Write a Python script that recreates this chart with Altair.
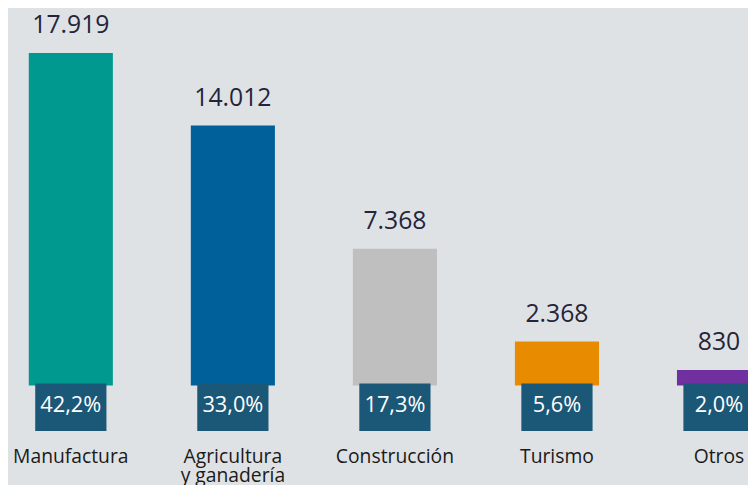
import altair as alt
import pandas as pd

categories = ["Manufactura", "Agricultura y ganadería", "Construcción", "Turismo", "Otros"]
label_lines = ["Manufactura", "Agricultura\ny ganadería", "Construcción", "Turismo", "Otros"]
values = [17919, 14012, 7368, 2368, 830]
value_labels = ["17.919", "14.012", "7.368", "2.368", "830"]
shares = ["42,2%", "33,0%", "17,3%", "5,6%", "2,0%"]
colors = ["#00998f", "#00609a", "#bfbfc0", "#e98b00", "#7030a0"]

df = pd.DataFrame({
    "cat": categories,
    "label": label_lines,
    "value": values,
    "vlabel": value_labels,
    "share": shares,
})

FONT = "Open Sans"

x = alt.X("cat:N", sort=categories, axis=None,
          scale=alt.Scale(range=[21, 761.2], paddingInner=0.481, paddingOuter=0))
y = alt.Y("value:Q", axis=None, scale=alt.Scale(domain=[0, 20000], range=[379, 4]))

base = alt.Chart(df)

bars = base.mark_bar().encode(
    x=x, y=y, y2=alt.datum(0),
    color=alt.Color("cat:N", scale=alt.Scale(domain=categories, range=colors), legend=None),
)

vtext = base.mark_text(dy=-20, baseline="alphabetic", fontSize=25, font=FONT,
                       color="#24243a").encode(x=x, y=y, text="vlabel:N")

boxes = base.mark_bar(width=72, color="#1b5877").encode(
    x=x, y=alt.value(377), y2=alt.value(425))

ptext = base.mark_text(baseline="alphabetic", fontSize=22, font=FONT,
                       color="white").encode(x=x, y=alt.value(406), text="share:N")

ctext = base.mark_text(baseline="alphabetic", fontSize=19.5, font=FONT, lineBreak="\n",
                       lineHeight=20, color="#1a1a1a").encode(
    x=x, y=alt.value(457), text="label:N")

chart = alt.layer(bars, vtext, boxes, ptext, ctext).properties(
    width=748, height=477,
    autosize=alt.AutoSizeParams(type="none"),
    padding=0,
    background="#dfe2e4",
).configure_view(stroke=None)

chart.save("out.html", embed_options={"renderer": "svg", "actions": False})
